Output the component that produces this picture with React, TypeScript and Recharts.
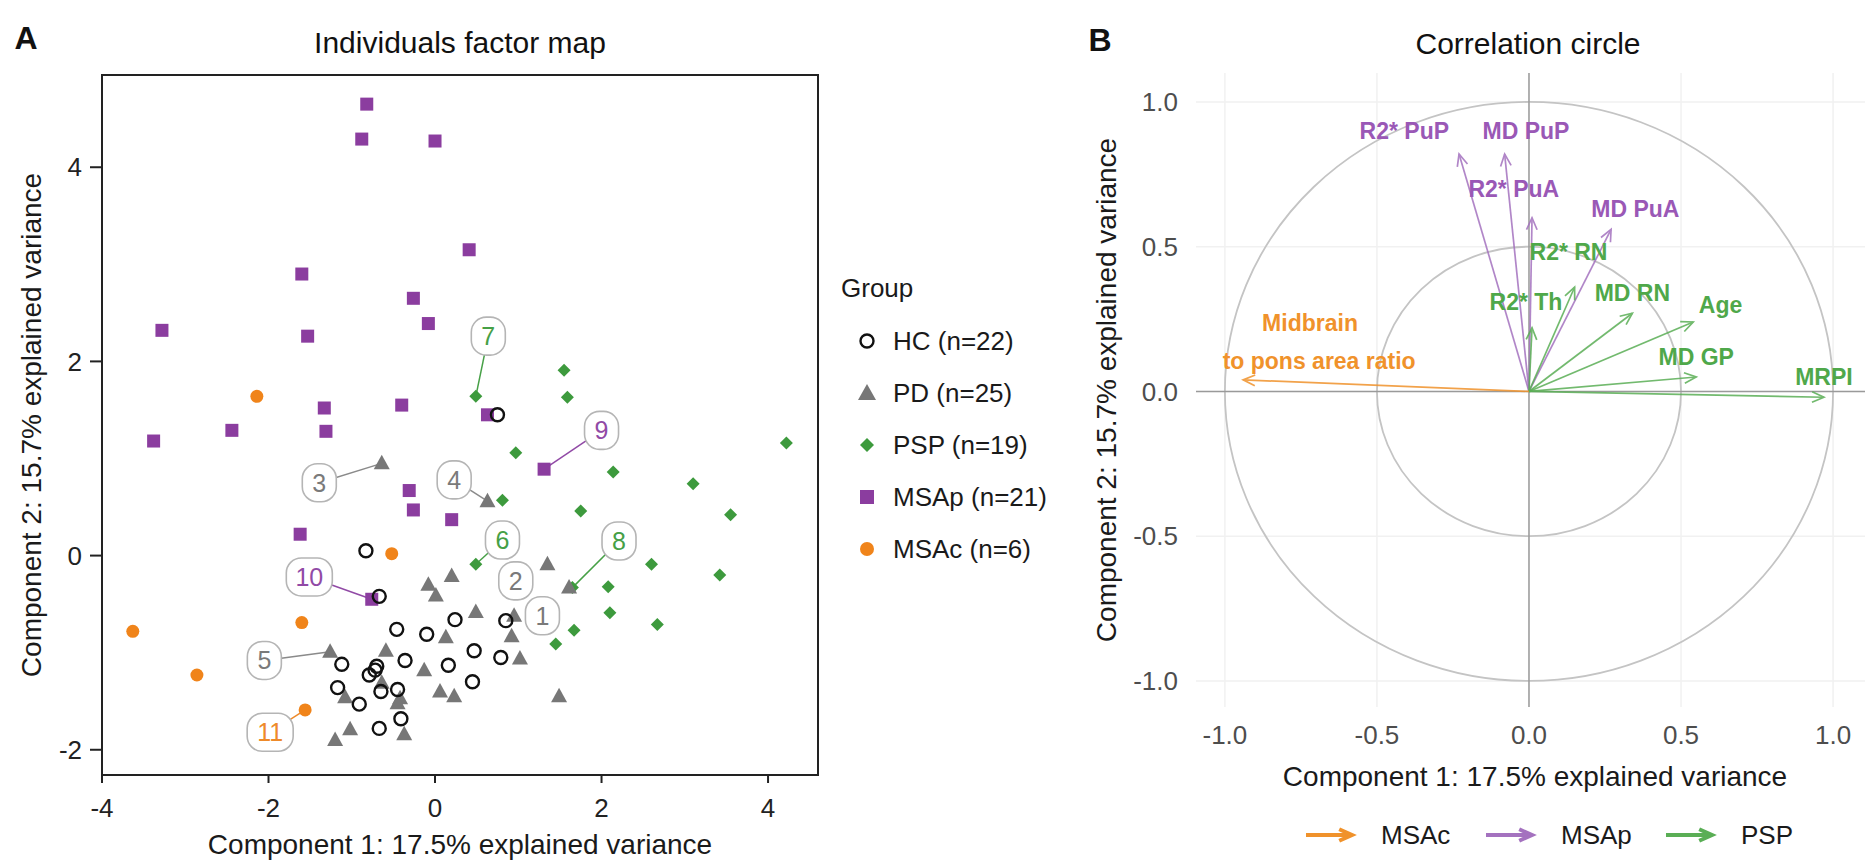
import React from 'react';
import { ScatterChart, Scatter, XAxis, YAxis, ReferenceLine, ReferenceArea, CartesianGrid } from 'recharts';

const FONT = '"Liberation Sans", Arial, Helvetica, sans-serif';

// ---------- Panel A data: individuals (Component 1, Component 2) ----------
const hcPoints: [number, number][] = [
  [-0.83, 0.05], [-0.67, -0.42], [0.75, 1.45], [0.24, -0.66], [0.85, -0.67], [-0.1, -0.81],
  [-0.46, -0.76], [-1.12, -1.12], [-0.7, -1.14], [-0.36, -1.08], [0.47, -0.98], [0.79, -1.05],
  [0.16, -1.13], [-0.79, -1.23], [-1.17, -1.36], [-0.65, -1.4], [-0.45, -1.38], [-0.91, -1.53],
  [0.45, -1.3], [-0.41, -1.68], [-0.67, -1.78], [-0.72, -1.18],
];
const pdPoints: [number, number][] = [
  [-0.64, 0.95], [0.63, 0.56], [1.35, -0.09], [0.2, -0.21], [-0.08, -0.3], [0.01, -0.41],
  [0.49, -0.58], [0.13, -0.84], [0.92, -0.83], [-0.59, -0.98], [1.02, -1.06], [-0.13, -1.18],
  [0.06, -1.4], [0.23, -1.45], [1.49, -1.45], [-1.08, -1.46], [-0.42, -1.47], [-1.02, -1.79],
  [-1.2, -1.9], [-0.37, -1.84], [-1.26, -0.99], [1.61, -0.33], [-0.64, -1.31], [-0.45, -1.52],
  [0.95, -0.62],
];
const pspPoints: [number, number][] = [
  [0.49, 1.64], [1.55, 1.91], [1.59, 1.63], [0.97, 1.06], [2.14, 0.86], [3.1, 0.74], [4.22, 1.16],
  [0.81, 0.57], [1.75, 0.46], [0.49, -0.09], [1.65, -0.33], [2.6, -0.09], [2.08, -0.32],
  [2.1, -0.59], [2.67, -0.71], [1.67, -0.77], [1.45, -0.91], [3.55, 0.42], [3.42, -0.2],
];
const msapPoints: [number, number][] = [
  [-0.82, 4.65], [-0.88, 4.29], [0.0, 4.27], [0.41, 3.15], [-0.26, 2.65], [-0.08, 2.39],
  [-1.6, 2.9], [-3.28, 2.32], [-1.53, 2.26], [-1.33, 1.52], [-2.44, 1.29], [-3.38, 1.18],
  [-1.31, 1.28], [-0.4, 1.55], [0.63, 1.45], [-0.31, 0.67], [-0.26, 0.47], [0.2, 0.37],
  [-1.62, 0.22], [-0.76, -0.45], [1.31, 0.89],
];
const msacPoints: [number, number][] = [
  [-2.14, 1.64], [-0.52, 0.02], [-1.6, -0.69], [-3.63, -0.78], [-2.86, -1.23], [-1.56, -1.59],
];

// numbered case labels: [label, labelX, labelY, pointX, pointY, group]
const caseLabels: [string, number, number, number | null, number | null, string][] = [
  ['1', 1.29, -0.62, null, null, 'PD'],
  ['2', 0.97, -0.26, null, null, 'PD'],
  ['3', -1.39, 0.75, -0.64, 0.95, 'PD'],
  ['4', 0.23, 0.78, 0.63, 0.56, 'PD'],
  ['5', -2.05, -1.08, -1.26, -0.99, 'PD'],
  ['6', 0.81, 0.16, 0.49, -0.09, 'PSP'],
  ['7', 0.64, 2.26, 0.49, 1.64, 'PSP'],
  ['8', 2.21, 0.15, 1.65, -0.33, 'PSP'],
  ['9', 2.0, 1.29, 1.31, 0.89, 'MSAp'],
  ['10', -1.51, -0.22, -0.76, -0.45, 'MSAp'],
  ['11', -1.98, -1.82, -1.56, -1.59, 'MSAc'],
];

const groupNames = ['HC (n=22)', 'PD (n=25)', 'PSP (n=19)', 'MSAp (n=21)', 'MSAc (n=6)'];
const xTicksA = [-4, -2, 0, 2, 4];
const yTicksA = [-2, 0, 2, 4];

// ---------- Panel B data: correlation circle ----------
const varNames = ['R2* PuP', 'MD PuP', 'R2* PuA', 'MD PuA', 'R2* RN', 'R2* Th', 'MD RN', 'Age', 'MD GP', 'MRPI', 'Midbrain to pons area ratio'];
const varGroup = ['MSAp', 'MSAp', 'MSAp', 'MSAp', 'PSP', 'PSP', 'PSP', 'PSP', 'PSP', 'PSP', 'MSAc'];
const varDim1 = [-0.23, -0.08, 0.01, 0.27, 0.15, 0.01, 0.34, 0.54, 0.55, 0.97, -0.94];
const varDim2 = [0.82, 0.82, 0.6, 0.56, 0.36, 0.22, 0.27, 0.24, 0.05, -0.02, 0.04];
// label text positions (data units)
const varLabels: [string, number, number, string][] = [
  ['R2* PuP', -0.41, 0.9, 'MSAp'],
  ['MD PuP', -0.01, 0.9, 'MSAp'],
  ['R2* PuA', -0.05, 0.7, 'MSAp'],
  ['MD PuA', 0.35, 0.63, 'MSAp'],
  ['R2* RN', 0.13, 0.48, 'PSP'],
  ['R2* Th', -0.01, 0.31, 'PSP'],
  ['MD RN', 0.34, 0.34, 'PSP'],
  ['Age', 0.63, 0.3, 'PSP'],
  ['MD GP', 0.55, 0.12, 'PSP'],
  ['MRPI', 0.97, 0.05, 'PSP'],
  ['Midbrain', -0.72, 0.236, 'MSAc'],
  ['to pons area ratio', -0.69, 0.104, 'MSAc'],
];
const ticksB = [-1, -0.5, 0, 0.5, 1];
const legendB = ['MSAc', 'MSAp', 'PSP'];

// ---------- styles ----------
const markColor: Record<string, string> = {
  HC: '#111111', PD: '#777777', PSP: '#3d9a3d', MSAp: '#8b3d9f', MSAc: '#f0841a',
};
const labelColor: Record<string, string> = {
  PD: '#7a7a7a', PSP: '#46a046', MSAp: '#914aa6', MSAc: '#ee8a2a',
};
const arrowColor: Record<string, string> = {
  MSAp: '#a472bf', PSP: '#5aae55', MSAc: '#f0922b',
};
const arrowText: Record<string, string> = {
  MSAp: '#9a58b6', PSP: '#4fa84a', MSAc: '#f0922b',
};

const toObjs = (pts: [number, number][]) => pts.map(([x, y]) => ({ x, y }));

const circleOpen = (p: any) => (
  <circle cx={p.cx} cy={p.cy} r={6.5} fill="none" stroke={markColor.HC} strokeWidth={2.4} />
);
const triangle = (p: any) => (
  <polygon
    points={`${p.cx},${p.cy - 8.5} ${p.cx - 8},${p.cy + 6} ${p.cx + 8},${p.cy + 6}`}
    fill={markColor.PD}
  />
);
const diamond = (p: any) => (
  <polygon
    points={`${p.cx},${p.cy - 6.5} ${p.cx + 6.5},${p.cy} ${p.cx},${p.cy + 6.5} ${p.cx - 6.5},${p.cy}`}
    fill={markColor.PSP}
  />
);
const square = (p: any) => (
  <rect x={p.cx - 6.5} y={p.cy - 6.5} width={13} height={13} fill={markColor.MSAp} />
);
const dotFilled = (p: any) => <circle cx={p.cx} cy={p.cy} r={6.5} fill={markColor.MSAc} />;

const caseLabelShape = (p: any) => {
  const d = p.payload ?? p;
  const w = d.id.length > 1 ? 46 : 34;
  const h = 38;
  const c = labelColor[d.group];
  return (
    <g>
      <rect x={p.cx - w / 2} y={p.cy - h / 2} width={w} height={h} rx={15} ry={15}
        fill="#ffffff" stroke="#b5b5b5" strokeWidth={1.6} />
      <text x={p.cx} y={p.cy + 9} textAnchor="middle" fontSize={25} fontFamily={FONT} fill={c}>
        {d.id}
      </text>
    </g>
  );
};

const makeArrow = (color: string, width = 1.7, len = 13, opacity = 1) => (p: any) => {
  const { x1, y1, x2, y2 } = p;
  const a = Math.atan2(y2 - y1, x2 - x1);
  const w = 0.42;
  const hx1 = x2 - len * Math.cos(a - w);
  const hy1 = y2 - len * Math.sin(a - w);
  const hx2 = x2 - len * Math.cos(a + w);
  const hy2 = y2 - len * Math.sin(a + w);
  return (
    <g opacity={opacity}>
      <line x1={x1} y1={y1} x2={x2} y2={y2} stroke={color} strokeWidth={width} />
      <polyline points={`${hx1},${hy1} ${x2},${y2} ${hx2},${hy2}`} fill="none" stroke={color} strokeWidth={width} />
    </g>
  );
};

const varLabelShape = (p: any) => {
  const d = p.payload ?? p;
  return (
    <text x={p.cx} y={p.cy + 8} textAnchor="middle" fontSize={23} fontWeight="bold"
      fontFamily={FONT} fill={arrowText[d.group]}>
      {d.text}
    </text>
  );
};

const ellipseShape = (p: any) => (
  <ellipse cx={p.x + p.width / 2} cy={p.y + p.height / 2} rx={Math.abs(p.width) / 2} ry={Math.abs(p.height) / 2}
    fill="none" stroke="#c4c4c4" strokeWidth={1.8} />
);

const titleStyle: React.CSSProperties = {
  position: 'absolute', fontFamily: FONT, fontSize: 30, color: '#111', whiteSpace: 'nowrap',
  transform: 'translate(-50%, -50%)',
};
const axisTitleStyle: React.CSSProperties = {
  position: 'absolute', fontFamily: FONT, fontSize: 28, color: '#1a1a1a', whiteSpace: 'nowrap',
};

export default function App() {
  const labelData = caseLabels.map(([id, x, y, , , group]) => ({ id, x, y, group }));
  const arrows = varNames.map((n, i) => ({ name: n, x: varDim1[i], y: varDim2[i], group: varGroup[i] }));
  const varLabelData = varLabels.map(([text, x, y, group]) => ({ text, x, y, group }));
  const legendShapes = [
    (cx: number, cy: number) => <circle cx={cx} cy={cy} r={6.5} fill="none" stroke={markColor.HC} strokeWidth={2.4} />,
    (cx: number, cy: number) => <polygon points={`${cx},${cy - 9} ${cx - 9},${cy + 7} ${cx + 9},${cy + 7}`} fill={markColor.PD} />,
    (cx: number, cy: number) => <polygon points={`${cx},${cy - 7} ${cx + 7},${cy} ${cx},${cy + 7} ${cx - 7},${cy}`} fill={markColor.PSP} />,
    (cx: number, cy: number) => <rect x={cx - 7} y={cy - 7} width={14} height={14} fill={markColor.MSAp} />,
    (cx: number, cy: number) => <circle cx={cx} cy={cy} r={7} fill={markColor.MSAc} />,
  ];

  return (
    <div style={{ position: 'absolute', left: 0, top: 0, width: 1866, height: 860, background: '#fff', overflow: 'hidden' }}>
      {/* Panel letters and titles */}
      <div style={{ ...titleStyle, left: 26, top: 38, fontWeight: 'bold', fontSize: 32 }}>A</div>
      <div style={{ ...titleStyle, left: 460, top: 43 }}>Individuals factor map</div>
      <div style={{ ...titleStyle, left: 1100, top: 40, fontWeight: 'bold', fontSize: 32 }}>B</div>
      <div style={{ ...titleStyle, left: 1528, top: 44 }}>Correlation circle</div>

      {/* Panel A */}
      <div style={{ position: 'absolute', left: 0, top: 0 }}>
        <ScatterChart width={830} height={860} margin={{ top: 75, right: 12, bottom: 25, left: 20 }}>
          <XAxis type="number" dataKey="x" domain={[-4, 4.6]} ticks={xTicksA} allowDataOverflow
            height={60} tickSize={8} tickMargin={16}
            axisLine={{ stroke: '#222', strokeWidth: 2 }} tickLine={{ stroke: '#222', strokeWidth: 2 }}
            tick={{ fontSize: 26, fill: '#222', fontFamily: FONT }} />
          <YAxis type="number" dataKey="y" domain={[-2.26, 4.95]} ticks={yTicksA} allowDataOverflow
            width={82} tickSize={12} tickMargin={8}
            axisLine={{ stroke: '#222', strokeWidth: 2 }} tickLine={{ stroke: '#222', strokeWidth: 2 }}
            tick={{ fontSize: 26, fill: '#222', fontFamily: FONT }} />
          <ReferenceArea x1={-4} x2={4.6} y1={-2.26} y2={4.95} fill="none" stroke="#222" strokeWidth={2} />
          {caseLabels.filter((c) => c[3] !== null).map(([id, lx, ly, px, py, g]) => (
            <ReferenceLine key={'seg' + id} segment={[{ x: lx, y: ly }, { x: px as number, y: py as number }]}
              stroke={g === 'PD' ? '#8a8a8a' : labelColor[g]} strokeWidth={1.5} />
          ))}
          <Scatter data={toObjs(msapPoints)} shape={square} isAnimationActive={false} />
          <Scatter data={toObjs(pspPoints)} shape={diamond} isAnimationActive={false} />
          <Scatter data={toObjs(msacPoints)} shape={dotFilled} isAnimationActive={false} />
          <Scatter data={toObjs(pdPoints)} shape={triangle} isAnimationActive={false} />
          <Scatter data={toObjs(hcPoints)} shape={circleOpen} isAnimationActive={false} />
          <Scatter data={labelData} shape={caseLabelShape} isAnimationActive={false} />
        </ScatterChart>
      </div>
      <div style={{ ...axisTitleStyle, left: 460, top: 845, transform: 'translate(-50%, -50%)' }}>
        Component 1: 17.5% explained variance
      </div>
      <div style={{ ...axisTitleStyle, left: 32, top: 425, transform: 'translate(-50%, -50%) rotate(-90deg)' }}>
        Component 2: 15.7% explained variance
      </div>

      {/* Panel A legend */}
      <div style={{ position: 'absolute', left: 841, top: 288, transform: 'translateY(-50%)', fontFamily: FONT, fontSize: 26, color: '#1a1a1a' }}>Group</div>
      <svg style={{ position: 'absolute', left: 0, top: 0 }} width={1100} height={860}>
        {groupNames.map((g, i) => {
          const cy = 341 + i * 52;
          return (
            <g key={g}>
              {legendShapes[i](867, cy)}
              <text x={893} y={cy + 9} fontSize={26} fontFamily={FONT} fill="#1a1a1a">{g}</text>
            </g>
          );
        })}
      </svg>

      {/* Panel B */}
      <div style={{ position: 'absolute', left: 1100, top: 0 }}>
        <ScatterChart width={766} height={860} margin={{ top: 73, right: 1, bottom: 103, left: 20 }}>
          <CartesianGrid stroke="#f1f1f1" strokeWidth={1.5} horizontalValues={ticksB} verticalValues={ticksB} />
          <XAxis type="number" dataKey="x" domain={[-1.095, 1.105]} ticks={ticksB} allowDataOverflow
            height={50} tickSize={0} tickMargin={19} axisLine={false} tickLine={false}
            tickFormatter={(v: number) => v.toFixed(1)}
            tick={{ fontSize: 26, fill: '#4d4d4d', fontFamily: FONT }} />
          <YAxis type="number" dataKey="y" domain={[-1.09, 1.1]} ticks={ticksB} allowDataOverflow
            width={76} tickSize={0} tickMargin={18} axisLine={false} tickLine={false}
            tickFormatter={(v: number) => v.toFixed(1)}
            tick={{ fontSize: 26, fill: '#4d4d4d', fontFamily: FONT }} />
          <ReferenceArea x1={-1} x2={1} y1={-1} y2={1} shape={ellipseShape} />
          <ReferenceArea x1={-0.5} x2={0.5} y1={-0.5} y2={0.5} shape={ellipseShape} />
          <ReferenceLine x={0} stroke="#9a9a9a" strokeWidth={1.5} />
          <ReferenceLine y={0} stroke="#9a9a9a" strokeWidth={1.5} />
          {arrows.map((a) => (
            <ReferenceLine key={a.name} segment={[{ x: 0, y: 0 }, { x: a.x, y: a.y }]}
              shape={makeArrow(arrowColor[a.group], 1.7, 13, 0.85)} />
          ))}
          <Scatter data={varLabelData} shape={varLabelShape} isAnimationActive={false} />
        </ScatterChart>
      </div>
      <div style={{ ...axisTitleStyle, left: 1535, top: 777, transform: 'translate(-50%, -50%)' }}>
        Component 1: 17.5% explained variance
      </div>
      <div style={{ ...axisTitleStyle, left: 1107, top: 390, transform: 'translate(-50%, -50%) rotate(-90deg)' }}>
        Component 2: 15.7% explained variance
      </div>

      {/* Panel B legend */}
      <svg style={{ position: 'absolute', left: 1200, top: 800 }} width={666} height={60}>
        {legendB.map((g, i) => {
          const x0 = 106 + i * 180;
          const cy = 35;
          return (
            <g key={g}>
              {makeArrow(arrowColor[g], 4, 14)({ x1: x0, y1: cy, x2: x0 + 46, y2: cy })}
              <text x={x0 + 75} y={cy + 9} fontSize={26} fontFamily={FONT} fill="#1a1a1a">{g}</text>
            </g>
          );
        })}
      </svg>
    </div>
  );
}
